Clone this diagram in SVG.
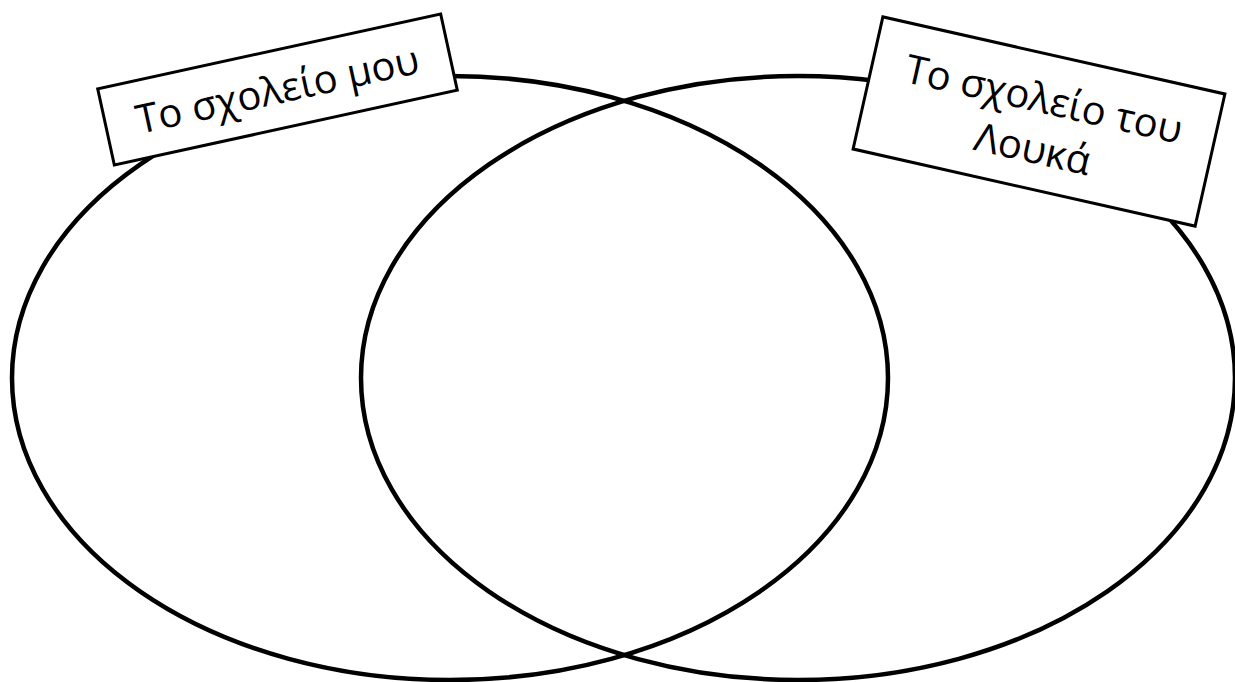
<svg xmlns="http://www.w3.org/2000/svg" width="1235" height="682" viewBox="0 0 1235 682">
<style>
.ell{fill:none;stroke:#000;stroke-width:4.5}
.box{fill:#fff;stroke:#000;stroke-width:3}
.lbl{font-family:"Open Sans","Noto Sans","DejaVu Sans",sans-serif;font-size:40px;fill:#000;text-anchor:middle}
</style>
<rect width="1235" height="682" fill="#fff"/>
<g id="set-left"><ellipse class="ell" cx="450" cy="378" rx="438" ry="302"/></g>
<g id="set-right"><ellipse class="ell" cx="798" cy="378" rx="437" ry="302"/></g>
<g id="label-left" transform="translate(277.5,89.5) rotate(-12.3)">
<rect class="box" x="-175.5" y="-39" width="351" height="78"/>
<text class="lbl" x="0" y="14">Το σχολείο μου</text>
</g>
<g id="label-right" transform="translate(1039,121.5) rotate(12.7)">
<rect class="box" x="-175.3" y="-67.7" width="350.6" height="135.4"/>
<text class="lbl" x="0" y="-9">Το σχολείο του</text>
<text class="lbl" x="0" y="42">Λουκά</text>
</g>
</svg>
